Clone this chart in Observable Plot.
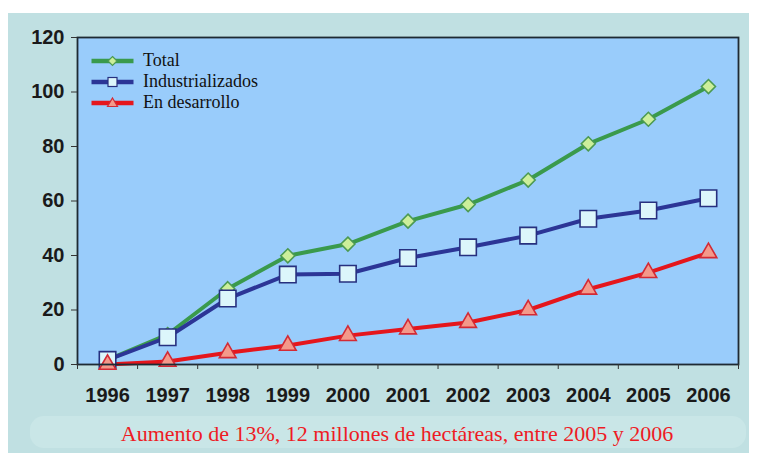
<!DOCTYPE html>
<html>
<head>
<meta charset="utf-8">
<script src="https://cdn.jsdelivr.net/npm/d3@7"></script>
<script src="https://cdn.jsdelivr.net/npm/@observablehq/plot@0.6"></script>
<style>
  html, body { margin: 0; padding: 0; background: #ffffff; }
  #wrap { position: relative; width: 758px; height: 457px; overflow: hidden; background: #ffffff; }
  #panel { position: absolute; left: 8px; top: 13px; width: 741px; height: 440px; background: #c0e0e2; }
  #capband { position: absolute; left: 30px; top: 416px; width: 716px; height: 32px; background: #c9e6e7; border-radius: 14px; }
  #chart { position: absolute; left: 0; top: 0; }
  #caption { position: absolute; left: 0; width: 794px; top: 421px; text-align: center;
             font-family: "Liberation Serif", "DejaVu Serif", serif; font-size: 22px; color: #ee1b24; }
  #legend { position: absolute; left: 91px; top: 50px; font-family: "Liberation Serif", serif; font-size: 18px; color: #111; }
  .item { display: flex; align-items: center; height: 21px; }
  .item svg { margin-right: 9px; }
</style>
</head>
<body>
<div id="wrap">
  <div id="panel"></div>
  <div id="capband"></div>
  <div id="chart"></div>
  <div id="legend"></div>
  <div id="caption"></div>
</div>
<script>
// ---- data ----
const years = [1996, 1997, 1998, 1999, 2000, 2001, 2002, 2003, 2004, 2005, 2006];
const total = [1.7, 11, 27.8, 39.9, 44.2, 52.6, 58.7, 67.7, 81.0, 90.0, 102.0];
const industrializados = [1.7, 10.0, 24.2, 33.0, 33.3, 39.1, 43.0, 47.3, 53.5, 56.5, 61.0];
const enDesarrollo = [0.0, 1.1, 4.3, 7.0, 10.6, 13.0, 15.4, 20.0, 27.6, 33.7, 41.0];
const yTicks = [0, 20, 40, 60, 80, 100, 120];
const seriesNames = ["Total", "Industrializados", "En desarrollo"];
const captionText = "Aumento de 13%, 12 millones de hectáreas, entre 2005 y 2006";

const styles = {
  "Total": {line: "#3a9a4c", fill: "#ccef9a", stroke: "#4c9a52", symbol: "diamond2", r: 6.3},
  "Industrializados": {line: "#2c3596", fill: "#dcf6fb", stroke: "#27307f", symbol: "square", r: 9.3},
  "En desarrollo": {line: "#e5161c", fill: "#f4998a", stroke: "#d32a35", symbol: "triangle", r: 6.2}
};

const table = [];
const valuesBySeries = {"Total": total, "Industrializados": industrializados, "En desarrollo": enDesarrollo};
for (const s of seriesNames) years.forEach((y, i) => table.push({series: s, year: y, value: valuesBySeries[s][i]}));
const boundaries = years.map(y => y - 0.5).concat([years[years.length - 1] + 0.5]);

const marks = [
  Plot.frame({fill: "#99ccfb", stroke: "none"}),
];
for (const s of seriesNames) {
  const st = styles[s];
  const d = table.filter(r => r.series === s);
  marks.push(Plot.line(d, {x: "year", y: "value", stroke: st.line, strokeWidth: 4, strokeLinejoin: "round"}));
}
for (const s of seriesNames) {
  const st = styles[s];
  const d = table.filter(r => r.series === s);
  marks.push(Plot.dot(d, {x: "year", y: "value", symbol: () => st.symbol, r: st.r, fill: st.fill, stroke: st.stroke, strokeWidth: 1.6}));
}
marks.push(
  Plot.frame({stroke: "#1e2a33", strokeWidth: 1.8, fill: "none"}),
  Plot.axisY({ticks: yTicks, tickSize: 6, tickPadding: 7, stroke: "#333", strokeWidth: 1,
              fontSize: 20, fontWeight: "bold", fill: "#1a1a1a", label: null}),
  Plot.axisX({ticks: boundaries, tickSize: 5, tickFormat: () => "", stroke: "#333", label: null}),
  Plot.axisX({ticks: years, tickSize: 0, tickPadding: 23, tickFormat: d => String(d),
              fontSize: 20, fontWeight: "bold", fill: "#1a1a1a", label: null})
);

const chart = Plot.plot({
  width: 758,
  height: 457,
  marginLeft: 77,
  marginRight: 20,
  marginTop: 37,
  marginBottom: 93,
  style: {background: "transparent", fontFamily: "'Liberation Sans', Arial, sans-serif", overflow: "visible"},
  x: {type: "linear", domain: [years[0] - 0.5, years[years.length - 1] + 0.5]},
  y: {domain: [yTicks[0], yTicks[yTicks.length - 1]]},
  symbol: {type: "identity"},
  marks
});
document.getElementById("chart").appendChild(chart);

// legend
const legend = document.getElementById("legend");
const symPath = {
  "Total": '<path d="M0,-4.5L4.5,0L0,4.5L-4.5,0Z"/>',
  "Industrializados": '<rect x="-4.5" y="-4.5" width="9" height="9"/>',
  "En desarrollo": '<path d="M0,-5L5,3.5L-5,3.5Z"/>'
};
for (const s of seriesNames) {
  const st = styles[s];
  const div = document.createElement("div");
  div.className = "item";
  div.innerHTML = `<svg width="43" height="14" viewBox="-21.5 -7 43 14">
      <line x1="-21" x2="21" y1="0" y2="0" stroke="${st.line}" stroke-width="4.5"/>
      <g fill="${st.fill}" stroke="${st.stroke}" stroke-width="1.2">${symPath[s]}</g>
    </svg><span>${s}</span>`;
  legend.appendChild(div);
}
document.getElementById("caption").textContent = captionText;
</script>
</body>
</html>
